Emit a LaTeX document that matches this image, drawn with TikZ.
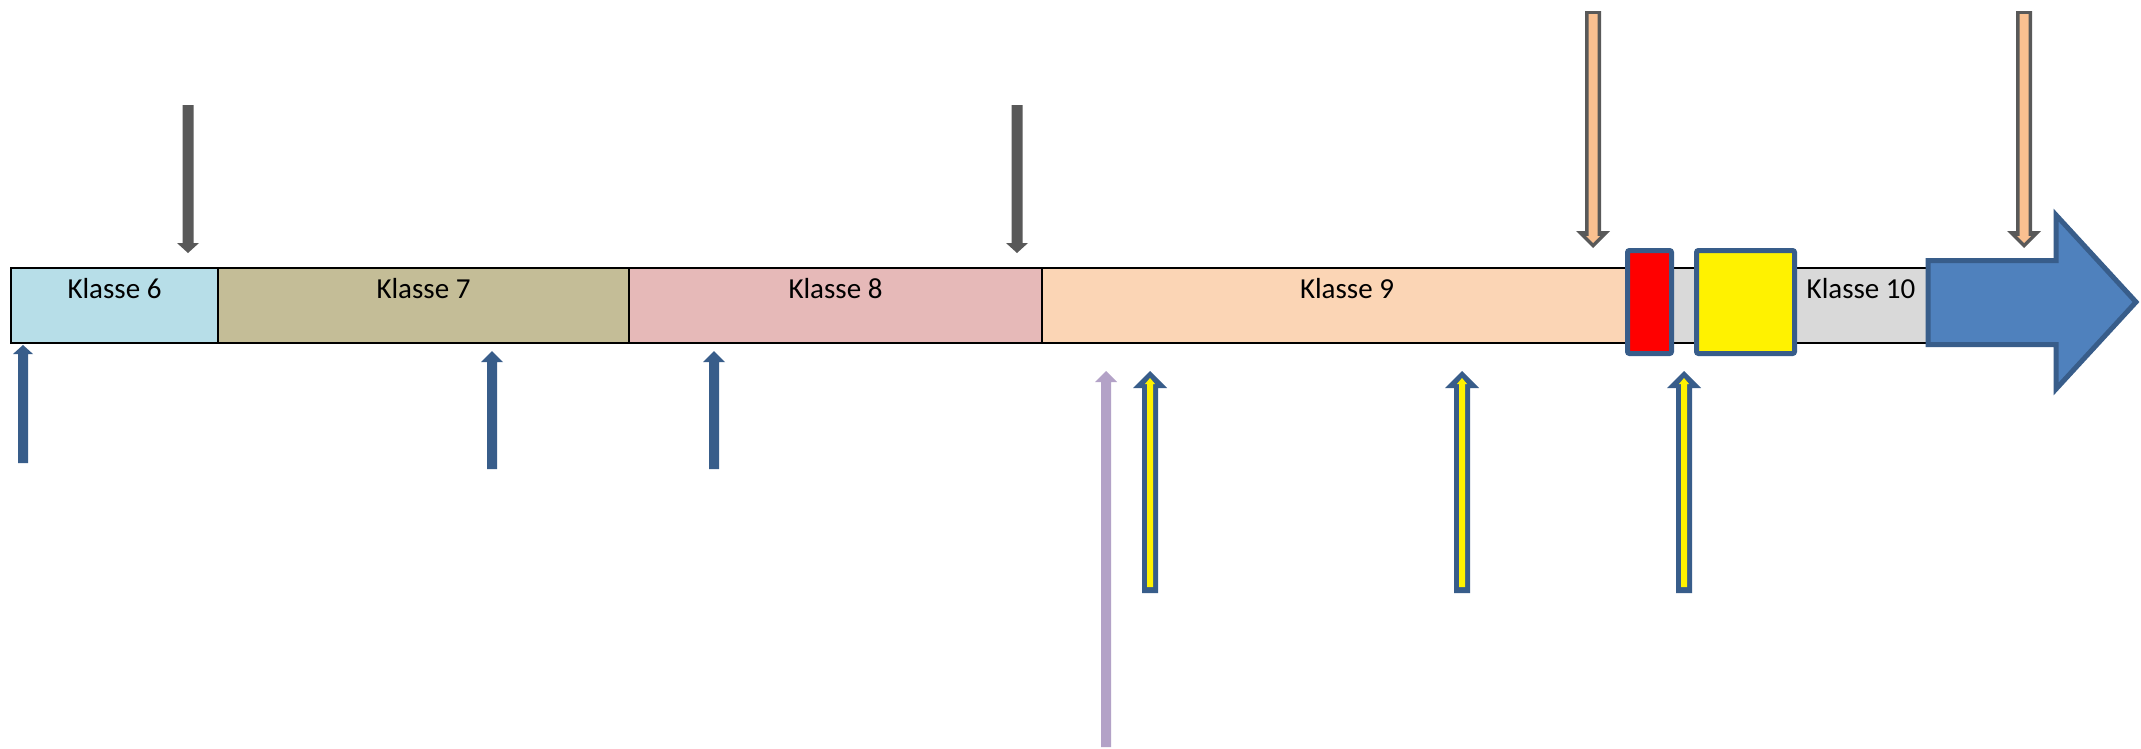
\documentclass[tikz,border=0pt]{standalone}
\usepackage{fontspec}
\setmainfont{Carlito}
\definecolor{kA}{HTML}{B7DEE8}
\definecolor{kB}{HTML}{C4BD97}
\definecolor{kC}{HTML}{E6B9B8}
\definecolor{kD}{HTML}{FBD5B5}
\definecolor{kE}{HTML}{D9D9D9}
\definecolor{darkblue}{HTML}{385D8A}
\definecolor{midblue}{HTML}{4F81BD}
\definecolor{darkgrey}{HTML}{595959}
\definecolor{orangefill}{HTML}{FAC090}
\definecolor{lilac}{HTML}{B3A2C7}
% #1 centre x, #2 tip y, #3 head base y, #4 tail y, #5 half shaft, #6 half head, #7 style
\newcommand\myblockarrow[7]{\fill[#7] (#1-#5,#4) -- (#1-#5,#3) -- (#1-#6,#3) -- (#1,#2) -- (#1+#6,#3) -- (#1+#5,#3) -- (#1+#5,#4) -- cycle;}
\tikzset{
  cell/.style={draw=black, line width=2pt, anchor=north west, minimum height=75pt, inner sep=0pt, outer sep=0pt},
  klabel/.style={anchor=base, font=\fontsize{29}{34}\selectfont, inner sep=0pt},
  markbox/.style={draw=darkblue, line width=5pt, rounded corners=2pt, inner sep=0pt, outer sep=0pt}
}
\begin{document}
\begin{tikzpicture}[x=1pt,y=-1pt]
\useasboundingbox[fill=white] (0,0) rectangle (2141,748);
% bar cells
\node[cell, fill=kE, minimum width=290pt] (k10) at (1650,268) {};
\node[cell, fill=kD, minimum width=608pt] (k9) at (1042,268) {};
\node[cell, fill=kC, minimum width=413pt] (k8) at (629,268) {};
\node[cell, fill=kB, minimum width=411pt] (k7) at (218,268) {};
\node[cell, fill=kA, minimum width=207pt] (k6) at (11,268) {};
\node[klabel] (t6) at (114.5,298) {Klasse 6};
\node[klabel] (t7) at (423.5,298) {Klasse 7};
\node[klabel] (t8) at (835.5,298) {Klasse 8};
\node[klabel] (t9) at (1347,298) {Klasse 9};
\node[klabel] (t10) at (1861,298) {Klasse 10};
% red and yellow boxes
\node[markbox, fill=red, minimum width=44pt, minimum height=103pt] (redbox) at (1649.5,302) {};
\node[markbox, fill=yellow, minimum width=98pt, minimum height=103pt] (yellowbox) at (1745.5,302) {};
% big arrow
\filldraw[fill=midblue, draw=darkblue, line width=5pt, line join=miter]
  (1928,260.5) -- (2056,260.5) -- (2056,215) -- (2136,302) -- (2056,389) -- (2056,344.5) -- (1928,344.5) -- cycle;
% grey down arrows
\myblockarrow{188}{253}{243}{105}{5.5}{11}{darkgrey}
\myblockarrow{1017}{253}{243}{105}{5.5}{11}{darkgrey}
% orange down arrows
\myblockarrow{1593}{248}{231}{11}{8}{17}{darkgrey}
\myblockarrow{1593}{243}{236}{14}{4.5}{7}{orangefill}
\myblockarrow{2024}{248}{231}{11}{8}{17}{darkgrey}
\myblockarrow{2024}{243}{236}{14}{4.5}{7}{orangefill}
% blue up arrows
\myblockarrow{23}{345}{354}{463}{5}{10}{darkblue}
\myblockarrow{492}{351}{362}{469}{5}{11}{darkblue}
\myblockarrow{714}{351}{362}{469}{5}{11}{darkblue}
% lilac up arrow
\myblockarrow{1106}{371}{382}{747}{5}{11}{lilac}
% yellow outlined up arrows
\myblockarrow{1150}{371}{388}{593}{8}{17}{darkblue}
\myblockarrow{1150}{378}{384}{587}{3}{5}{yellow}
\myblockarrow{1462}{371}{388}{593}{8}{17}{darkblue}
\myblockarrow{1462}{378}{384}{587}{3}{5}{yellow}
\myblockarrow{1684}{371}{388}{593}{8}{17}{darkblue}
\myblockarrow{1684}{378}{384}{587}{3}{5}{yellow}
\end{tikzpicture}
\end{document}
